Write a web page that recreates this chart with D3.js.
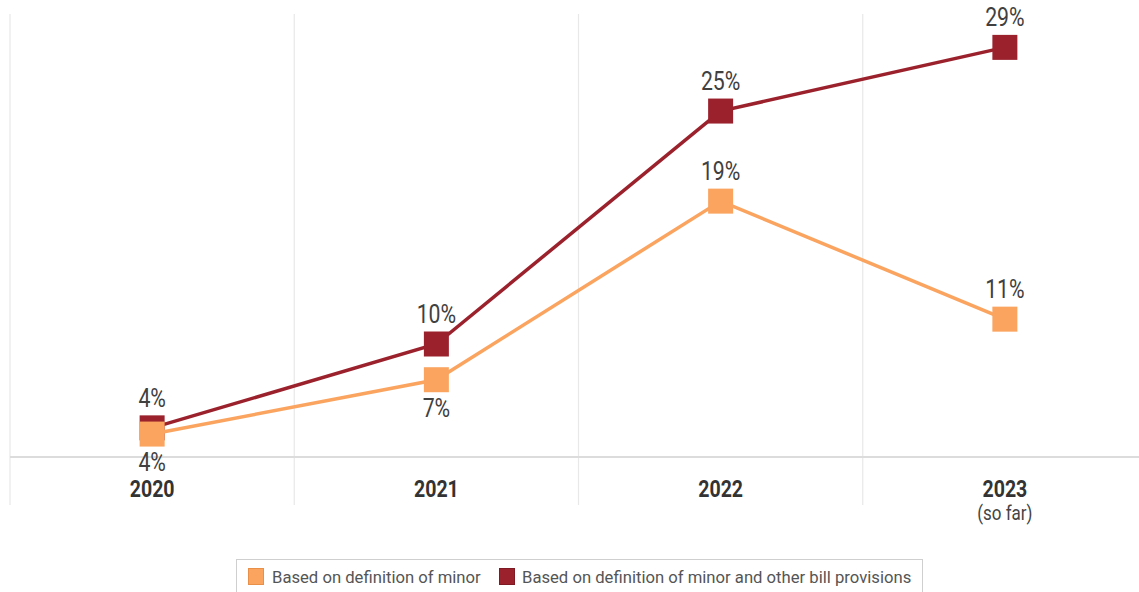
<!DOCTYPE html>
<html>
<head>
<meta charset="utf-8">
<script src="https://cdn.jsdelivr.net/npm/d3@7/dist/d3.min.js"></script>
<style>
  html, body { margin: 0; padding: 0; background: #fff; }
  svg { display: block; font-family: Roboto, "Liberation Sans", sans-serif; }
</style>
</head>
<body>
<svg id="chart" width="1139" height="592"></svg>
<script>
const years = ["2020", "2021", "2022", "2023"];
const yearNotes = ["", "", "", "(so far)"];
const minorValues = [4.2, 7.7, 19.2, 11.6];
const minorLabels = ["4%", "7%", "19%", "11%"];
const provisionValues = [4.6, 10.0, 25.0, 29.1];
const provisionLabels = ["4%", "10%", "25%", "29%"];
const seriesNames = ["Based on definition of minor", "Based on definition of minor and other bill provisions"];
const seriesColors = ["#FAA460", "#9B222D"];
const seriesStroke = ["#E8904A", "#7E1A24"];

const svg = d3.select("#chart");
const W = 1139, H = 592;
const plotTop = 14, plotBottom = 505, axisY = 457;
const SX = 0.85; // condensed look

const x = d3.scaleBand().domain(years).range([10, 1147]).padding(0);
const y = d3.scaleLinear().domain([0, 30]).range([499.3, 33.4]);
const cx = d => x(d) + x.bandwidth() / 2;

// vertical gridlines at band boundaries
const gridG = svg.append("g");
years.forEach(yr => {
  gridG.append("line")
    .attr("x1", x(yr)).attr("x2", x(yr))
    .attr("y1", plotTop).attr("y2", plotBottom)
    .attr("stroke", "#e8e8e8").attr("stroke-width", 1.2);
});
gridG.append("line")
  .attr("x1", x.range()[1]).attr("x2", x.range()[1])
  .attr("y1", plotTop).attr("y2", plotBottom)
  .attr("stroke", "#e8e8e8").attr("stroke-width", 1.2);

// category axis line
svg.append("line")
  .attr("x1", x.range()[0]).attr("x2", W)
  .attr("y1", axisY).attr("y2", axisY)
  .attr("stroke", "#dcdcdc").attr("stroke-width", 2);

// condensed text helper
function ctext(g, tx, ty, str, size, weight, fill) {
  return g.append("text")
    .attr("transform", `translate(${tx},${ty}) scale(${SX},1)`)
    .attr("text-anchor", "middle")
    .attr("font-size", size)
    .attr("font-weight", weight)
    .attr("fill", fill)
    .text(str);
}

// year labels
const axG = svg.append("g");
years.forEach((yr, i) => {
  ctext(axG, cx(yr), 497, yr, 23, 700, "#333333");
  if (yearNotes[i]) ctext(axG, cx(yr), 520, yearNotes[i], 20, 400, "#444444");
});

const line = d3.line().x(d => cx(d.year)).y(d => y(d.v));
const mk = 25;

function drawSeries(vals, color) {
  const data = years.map((yr, i) => ({ year: yr, v: vals[i] }));
  const g = svg.append("g");
  g.append("path").datum(data)
    .attr("d", line)
    .attr("fill", "none")
    .attr("stroke", color)
    .attr("stroke-width", 3.5);
  g.selectAll("rect").data(data).join("rect")
    .attr("x", d => cx(d.year) - mk / 2)
    .attr("y", d => y(d.v) - mk / 2)
    .attr("width", mk).attr("height", mk)
    .attr("fill", color);
  return data;
}

drawSeries(provisionValues, seriesColors[1]);
drawSeries(minorValues, seriesColors[0]);

// value labels
const lblG = svg.append("g");
years.forEach((yr, i) => {
  ctext(lblG, cx(yr), y(provisionValues[i]) - 21, provisionLabels[i], 25, 400, "#404040");
  const below = (provisionValues[i] - minorValues[i]) < 5;
  const ly = below ? y(minorValues[i]) + 37 : y(minorValues[i]) - 21;
  ctext(lblG, cx(yr), ly, minorLabels[i], 25, 400, "#404040");
});

// legend
const lg = svg.append("g");
lg.append("rect")
  .attr("x", 236.5).attr("y", 559.5).attr("width", 686).attr("height", 40)
  .attr("fill", "#fff").attr("stroke", "#cfcfcf").attr("stroke-width", 1);
const legendItems = [
  { sx: 248, tx: 272 },
  { sx: 499, tx: 522 }
];
seriesNames.forEach((name, i) => {
  lg.append("rect")
    .attr("x", legendItems[i].sx + 0.5).attr("y", 568.5)
    .attr("width", 15).attr("height", 16)
    .attr("fill", seriesColors[i]).attr("stroke", seriesStroke[i]).attr("stroke-width", 1);
  lg.append("text")
    .attr("transform", `translate(${legendItems[i].tx},583) scale(0.98,1)`)
    .attr("font-size", 17)
    .attr("fill", "#555555")
    .text(name);
});
</script>
</body>
</html>
